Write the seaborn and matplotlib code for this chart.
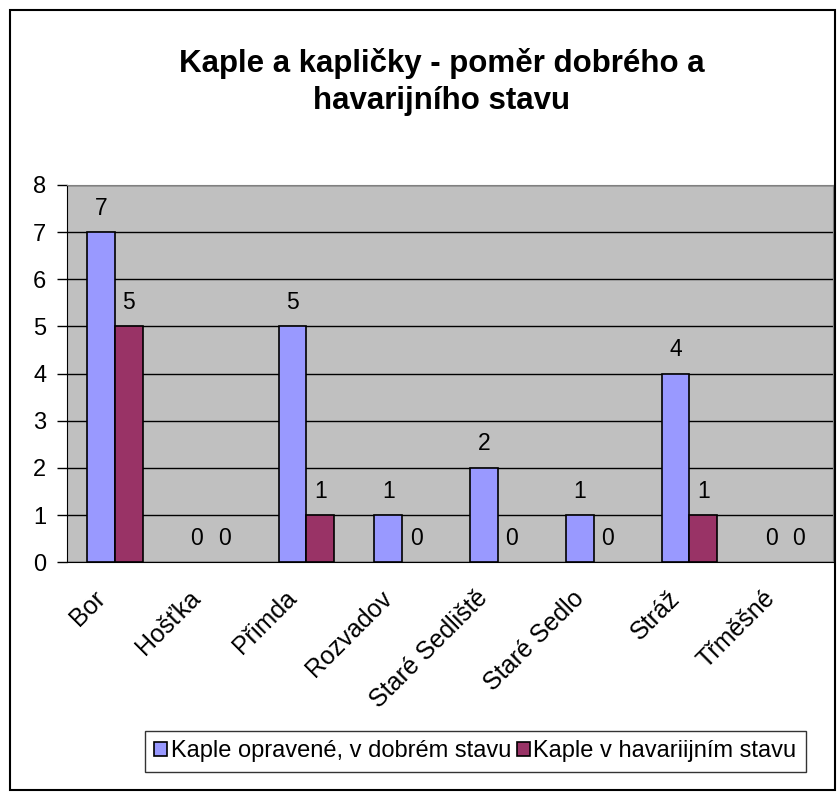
import pandas as pd
import matplotlib.pyplot as plt
import matplotlib.transforms as mtransforms
import seaborn as sns
from matplotlib.patches import Rectangle

obce = ['Bor', 'Hošťka', 'Přimda', 'Rozvadov', 'Staré Sedliště', 'Staré Sedlo', 'Stráž', 'Třměšné']
opravene = [7, 0, 5, 1, 2, 1, 4, 0]
havarijni = [5, 0, 1, 0, 0, 0, 1, 0]
serie = ['Kaple opravené, v dobrém stavu', 'Kaple v havariijním stavu']

df = pd.DataFrame({'obec': obce * 2,
                   'pocet': opravene + havarijni,
                   'stav': [serie[0]] * len(obce) + [serie[1]] * len(obce)})

sns.set_style('white')
plt.rcParams['font.family'] = ['Liberation Sans', 'DejaVu Sans']
plt.rcParams['text.color'] = 'black'
plt.rcParams['xtick.color'] = 'black'
plt.rcParams['ytick.color'] = 'black'

fig = plt.figure(figsize=(8.38, 8.0), dpi=100)
ax = fig.add_axes([0.08, 0.297, 0.914, 0.472])

sns.barplot(data=df, x='obec', y='pocet', hue='stav', order=obce, hue_order=serie,
            palette=['#9999FF', '#993366'], width=0.58, edgecolor='black', linewidth=1.2,
            saturation=1, ax=ax, zorder=3)

for c in ax.containers:
    ax.bar_label(c, fmt='%d', padding=9, fontsize=16.5)
    # Excel does not draw zero-height bars
    for p in c.patches:
        if p.get_height() == 0:
            p.set_linewidth(0)

ax.set_facecolor('#C0C0C0')
ax.set_xlim(-0.5, len(obce) - 0.5)
ax.set_ylim(0, 8)
ax.set_yticks(range(0, 9))
ax.yaxis.grid(True, color='black', linewidth=1)
ax.set_axisbelow(True)
ax.set_xlabel('')
ax.set_ylabel('')
for s in ['top', 'right']:
    ax.spines[s].set_color('#808080')
for s in ['left', 'bottom']:
    ax.spines[s].set_color('black')

ax.set_xticks(range(len(obce)))
ax.set_xticklabels(obce, rotation=45, ha='right', rotation_mode='anchor', fontsize=18)
ax.set_xticks([i - 0.5 for i in range(len(obce) + 1)], minor=True)
ax.tick_params(axis='x', which='major', length=0, pad=17)
ax.tick_params(axis='x', which='minor', length=7, width=1, color='black', direction='out')
ax.tick_params(axis='y', length=7, width=1, color='black', direction='out', labelsize=17,
               left=True, pad=8)

ax.legend(loc='center', bbox_to_anchor=(0.533, -0.5), ncol=2, fontsize=17, frameon=True,
          fancybox=False, edgecolor='black', handlelength=0.55, handleheight=0.55,
          handletextpad=0.15, columnspacing=0.25, borderpad=0.4)

fig.suptitle('Kaple a kapličky - poměr dobrého a\nhavarijního stavu', x=0.527, y=0.94,
             fontsize=22.5, fontweight='bold', linespacing=1.3)

fig.patches.append(Rectangle((0.012, 0.012), 0.985, 0.975, transform=fig.transFigure,
                             fill=False, edgecolor='black', linewidth=1.5))

# posunout popisky doleva jako v Excelu (az po tick_params, ten transform prepisuje)
shift = mtransforms.ScaledTranslation(-22 / 100, 0, fig.dpi_scale_trans)
for tick in ax.xaxis.get_major_ticks():
    tick.label1.set_transform(tick.label1.get_transform() + shift)

fig.savefig('out.png', dpi=100)
